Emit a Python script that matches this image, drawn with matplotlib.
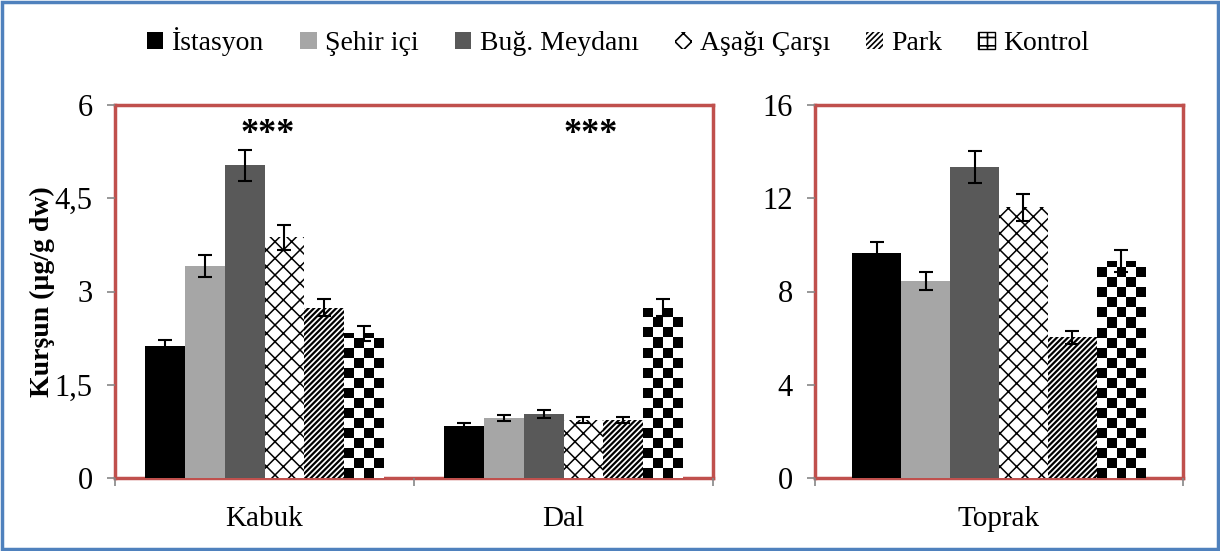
import numpy as np
import matplotlib
matplotlib.use("Agg")
import matplotlib.pyplot as plt
from matplotlib.patches import Rectangle, Patch

plt.rcParams['font.family'] = ['Liberation Serif', 'DejaVu Serif']
plt.rcParams['hatch.linewidth'] = 1.2

sites = ['İstasyon', 'Şehir içi', 'Buğ. Meydanı', 'Aşağı Çarşı', 'Park', 'Kontrol']
left_cats = ['Kabuk', 'Dal']
right_cats = ['Toprak']

# mean lead values (µg/g dw), one list per site: [Kabuk, Dal]
istasyon = [2.12, 0.84]
sehir_ici = [3.41, 0.97]
bug_meydani = [5.03, 1.03]
asagi_carsi = [3.87, 0.93]
park = [2.74, 0.93]
kontrol = [2.33, 2.74]
# error bars
istasyon_err = [0.10, 0.04]
sehir_ici_err = [0.18, 0.05]
bug_meydani_err = [0.25, 0.06]
asagi_carsi_err = [0.20, 0.05]
park_err = [0.14, 0.05]
kontrol_err = [0.12, 0.14]

# Toprak
toprak = [9.64, 8.45, 13.35, 11.62, 6.04, 9.32]
toprak_err = [0.47, 0.40, 0.68, 0.58, 0.28, 0.47]

left_vals = [istasyon, sehir_ici, bug_meydani, asagi_carsi, park, kontrol]
left_errs = [istasyon_err, sehir_ici_err, bug_meydani_err, asagi_carsi_err, park_err, kontrol_err]

colors = ['#000000', '#a6a6a6', '#595959', 'white', 'white', 'white']
hatches = [None, None, None, 'xx', '//////', None]
hatch_lw = [1.0, 1.0, 1.0, 1.1, 1.6, 1.0]
red = '#c0504d'
grey = '#868686'

fig = plt.figure(figsize=(12.2, 5.51), dpi=100)
ax1 = fig.add_axes([115/1220, 73/551, 598/1220, 373/551])
ax2 = fig.add_axes([815/1220, 73/551, 368/1220, 373/551])

bw = 0.133
checker_bars = []


def draw_group(ax, x, vals, errs):
    for i in range(6):
        pos = x + (i - 2.5) * bw
        with plt.rc_context({'hatch.linewidth': hatch_lw[i]}):
            bars = ax.bar(pos, vals[i], bw, color=colors[i], hatch=hatches[i],
                          edgecolor='black', linewidth=0, zorder=2)
        ax.errorbar(pos, vals[i], yerr=errs[i], fmt='none', ecolor='black',
                    elinewidth=1.5, capsize=5, capthick=1.5, zorder=4)
        if sites[i] == 'Kontrol':
            checker_bars.extend(bars.patches)


x1 = np.arange(len(left_cats))
draw_group(ax1, x1, [np.array(v) for v in left_vals], [np.array(e) for e in left_errs])
draw_group(ax2, np.arange(1), [np.array([v]) for v in toprak], [np.array([e]) for e in toprak_err])

ax1.set_xlim(-0.5, 1.5)
ax1.set_ylim(0, 6)
ax1.set_yticks([0, 1.5, 3, 4.5, 6])
ax1.set_yticklabels(['0', '1,5', '3', '4,5', '6'])
ax1.set_xticks([-0.5, 0.5, 1.5])
ax1.set_xticks(x1, minor=True)
ax1.set_xticklabels(left_cats, minor=True)

ax2.set_xlim(-0.5, 0.5)
ax2.set_ylim(0, 16)
ax2.set_yticks([0, 4, 8, 12, 16])
ax2.set_xticks([-0.5, 0.5])
ax2.set_xticks([0], minor=True)
ax2.set_xticklabels(right_cats, minor=True)

for ax in (ax1, ax2):
    ax.set_xticklabels([''] * len(ax.get_xticks()))
    for s in ax.spines.values():
        s.set_color(red)
        s.set_linewidth(2.5)
        s.set_zorder(1)
    ax.tick_params(axis='both', which='major', direction='out', length=6,
                   color=grey, width=1.2, labelsize=22)
    ax.tick_params(axis='y', pad=10)
    ax.tick_params(axis='x', which='minor', length=0, pad=20, labelsize=21)

ax1.set_ylabel('Kurşun (µg/g dw)', fontsize=20, fontweight='bold', labelpad=0)

ax1.text(0.01, 5.52, '***', ha='center', va='center', fontsize=26, fontweight='bold')
ax1.text(1.09, 5.52, '***', ha='center', va='center', fontsize=26, fontweight='bold')

# checkerboard fill for the Kontrol bars
fig.canvas.draw()
cell = 10
for p in checker_bars:
    ax = p.axes
    bb = p.get_window_extent()
    nx = max(1, int(round(bb.width / cell)))
    ny = int(np.ceil(bb.height / cell))
    img = (np.indices((ny, nx)).sum(axis=0) % 2).astype(float)
    x0, y0 = p.get_x(), p.get_y()
    x1e, y1e = x0 + p.get_width(), y0 + p.get_height()
    ytop = y0 + ny * cell * (y1e - y0) / bb.height
    im = ax.imshow(img, cmap='gray', vmin=0, vmax=1, origin='lower',
                   extent=(x0, x1e, y0, ytop), aspect='auto',
                   interpolation='nearest', zorder=3)
    im.set_clip_path(p)
ax1.set_xlim(-0.5, 1.5)
ax1.set_ylim(0, 6)
ax2.set_xlim(-0.5, 0.5)
ax2.set_ylim(0, 16)

handles = []
for i in range(6):
    if sites[i] == 'Kontrol':
        handles.append(Patch(facecolor='white', edgecolor='black', hatch='++', linewidth=1))
    else:
        handles.append(Patch(facecolor=colors[i], edgecolor='black' if hatches[i] else colors[i],
                             hatch=hatches[i], linewidth=0))
fig.legend(handles, sites, loc='center', bbox_to_anchor=(618/1220, 1 - 42/551), ncol=6,
           frameon=False, fontsize=20, handlelength=0.6, handleheight=0.6,
           handletextpad=0.3, columnspacing=1.3)

fig.patches.append(Rectangle((0.002, 0.003), 0.996, 0.994, transform=fig.transFigure,
                             fill=False, edgecolor='#4f81bd', linewidth=2.5))

fig.savefig('out.png', dpi=100)
